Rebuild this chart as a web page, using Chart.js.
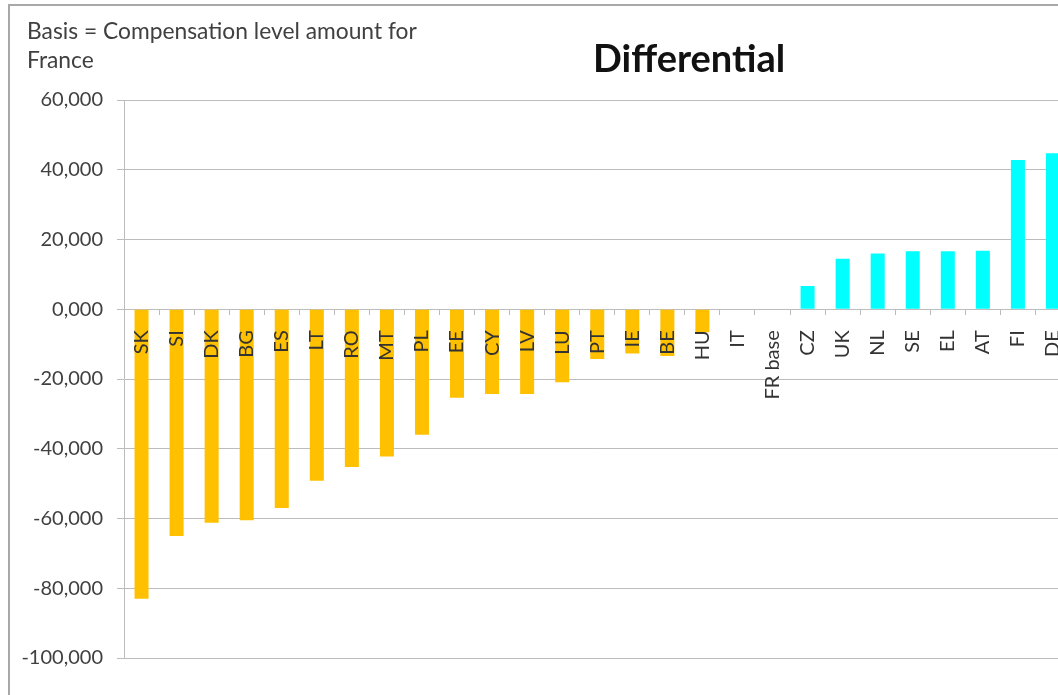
<!DOCTYPE html>
<html>
<head>
<meta charset="utf-8">
<title>Differential</title>
<script src="https://cdn.jsdelivr.net/npm/chart.js@4.4.1/dist/chart.umd.min.js"></script>
<style>
  html, body { margin: 0; padding: 0; background: #fff; overflow: hidden; }
  #wrap { position: relative; width: 1093px; height: 695px; }
  #frame { position: absolute; left: 8px; top: 4px; right: 0; bottom: -4px;
           border-left: 2px solid #a8a8a8; border-top: 2px solid #a8a8a8; pointer-events: none; }
  canvas { position: absolute; left: 0; top: 0; }
</style>
</head>
<body>
<div id="wrap">
  <canvas id="chart" width="1093" height="695"></canvas>
  <div id="frame"></div>
</div>
<script>
// Country codes along the category axis
const categories = ['SK','SI','DK','BG','ES','LT','RO','MT','PL','EE','CY','LV','LU','PT','IE','BE','HU','IT','FR base','CZ','UK','NL','SE','EL','AT','FI','DE'];

// Difference from the French compensation level
const differential = [-83000,-65000,-61200,-60500,-57000,-49200,-45200,-42200,-36000,-25400,-24300,-24300,-20900,-14300,-12700,-13400,-6600,0,0,6700,14500,16000,16600,16600,16800,42800,44700];

// Value-axis labels, bottom to top
const yTickValues = [-100000,-80000,-60000,-40000,-20000,0,20000,40000,60000];
const yTickLabels = ['-100,000','-80,000','-60,000','-40,000','-20,000','0,000','20,000','40,000','60,000'];

const chartTitle = 'Differential';
const noteLines = ['Basis = Compensation level amount for', 'France'];

const BELOW = '#FFC000';
const ABOVE = '#00FFFF';
const GRID = '#bcbcbc';

// Heading and the basis note in the top band
const headerText = {
  id: 'headerText',
  afterDraw(chart) {
    const ctx = chart.ctx;
    ctx.save();
    ctx.textBaseline = 'alphabetic';
    ctx.textAlign = 'left';
    ctx.fillStyle = '#404040';
    ctx.font = '22.8px Lato';
    ctx.fillText(noteLines[0], 27, 39);
    ctx.fillText(noteLines[1], 27, 68);
    ctx.fillStyle = '#111';
    ctx.font = 'bold 38px Lato';
    ctx.fillText(chartTitle, 593, 72);
    ctx.restore();
  }
};

Chart.defaults.font.family = 'Lato';

new Chart(document.getElementById('chart'), {
  type: 'bar',
  data: {
    labels: categories,
    datasets: [{
      data: differential,
      backgroundColor: (c) => (c.raw < 0 ? BELOW : ABOVE),
      borderWidth: 0,
      categoryPercentage: 1,
      barPercentage: 0.4
    }]
  },
  options: {
    responsive: false,
    animation: false,
    devicePixelRatio: 1,
    layout: { padding: { left: 0, right: 2, top: 100, bottom: 37 } },
    plugins: {
      legend: { display: false },
      tooltip: { enabled: false }
    },
    scales: {
      x: {
        position: { y: 0 },
        offset: true,
        grid: {
          offset: true,
          drawOnChartArea: false,
          drawTicks: true,
          tickLength: 5,
          color: GRID
        },
        border: { color: GRID, width: 1 },
        ticks: {
          z: 1,
          autoSkip: false,
          minRotation: 90,
          maxRotation: 90,
          padding: 16,
          color: '#333',
          font: { size: 20 }
        }
      },
      y: {
        min: -100000,
        max: 60000,
        afterFit: (s) => { s.width = 124; },
        afterBuildTicks: (s) => { s.ticks = yTickValues.map(v => ({ value: v })); },
        grid: { color: GRID, tickLength: 7 },
        border: { color: GRID, width: 1 },
        ticks: {
          padding: 14,
          color: '#404040',
          font: { size: 20 },
          callback: (v) => yTickLabels[yTickValues.indexOf(v)]
        }
      }
    }
  },
  plugins: [headerText]
});
</script>
</body>
</html>
